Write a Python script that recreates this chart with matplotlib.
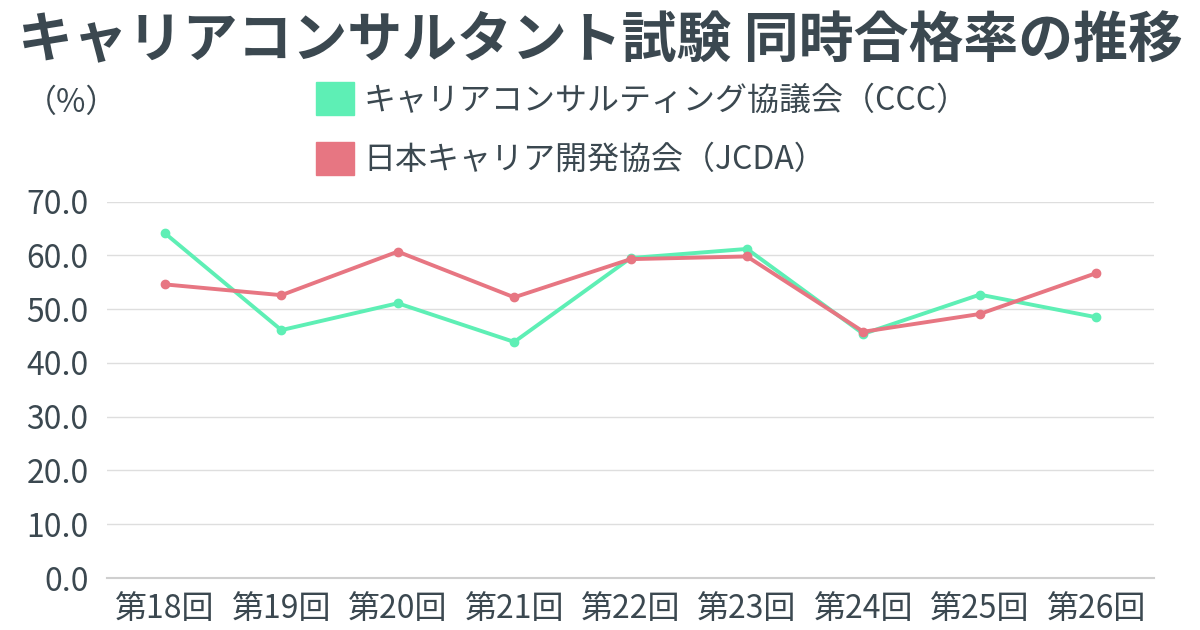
import matplotlib
matplotlib.use("Agg")
import matplotlib.pyplot as plt
from matplotlib.patches import Patch

plt.rcParams['font.family'] = ['Noto Sans CJK JP', 'DejaVu Sans']

TEXT = "#3b4850"
GREEN = "#5eefb5"
RED = "#e77682"

rounds = ["第18回", "第19回", "第20回", "第21回", "第22回", "第23回", "第24回", "第25回", "第26回"]
ccc = [64.1, 46.1, 51.1, 43.9, 59.5, 61.2, 45.4, 52.7, 48.5]
jcda = [54.6, 52.6, 60.7, 52.2, 59.3, 59.8, 45.8, 49.1, 56.7]
yticks = [0, 10, 20, 30, 40, 50, 60, 70]

fig = plt.figure(figsize=[12, 6.3], dpi=100)
ax = fig.add_axes([0.089, 0.0825, 0.873, 0.5975])

x = range(len(rounds))
ax.plot(x, ccc, "-o", color=GREEN, lw=2.8, ms=6, zorder=3)
ax.plot(x, jcda, "-o", color=RED, lw=2.8, ms=6, zorder=4)

ax.set_xlim(-0.5, len(rounds) - 0.5)
ax.set_ylim(0, 70)
ax.set_yticks(yticks)
ax.set_yticklabels(["{:.1f}".format(v) for v in yticks])
ax.set_xticks(list(x))
ax.set_xticklabels(rounds)
ax.tick_params(axis="both", length=0, labelsize=23, colors=TEXT)
ax.tick_params(axis="y", pad=13)
ax.tick_params(axis="x", pad=11)
ax.grid(axis="y", color="#dedede", lw=1)
ax.set_axisbelow(True)
for s in ["top", "right", "left"]:
    ax.spines[s].set_visible(False)
ax.spines["bottom"].set_color("#cfcfcf")
ax.spines["bottom"].set_linewidth(1.5)

fig.text(0.5, 0.935, "キャリアコンサルタント試験 同時合格率の推移", ha="center", va="center",
         fontsize=39.5, fontweight="bold", color=TEXT)
fig.text(0.021, 0.837, "（%）", ha="left", va="center", fontsize=23, color=TEXT)

handles = [Patch(color=GREEN), Patch(color=RED)]
labels = ["キャリアコンサルティング協議会（CCC）", "日本キャリア開発協会（JCDA）"]
leg = fig.legend(handles, labels, loc="upper left", bbox_to_anchor=(0.239, 0.915),
                 frameon=False, fontsize=23, handlelength=1.2, handleheight=1.2,
                 handletextpad=0.3, labelspacing=0.8, labelcolor=TEXT)

fig.savefig("out.png", dpi=100)
plt.close(fig)
